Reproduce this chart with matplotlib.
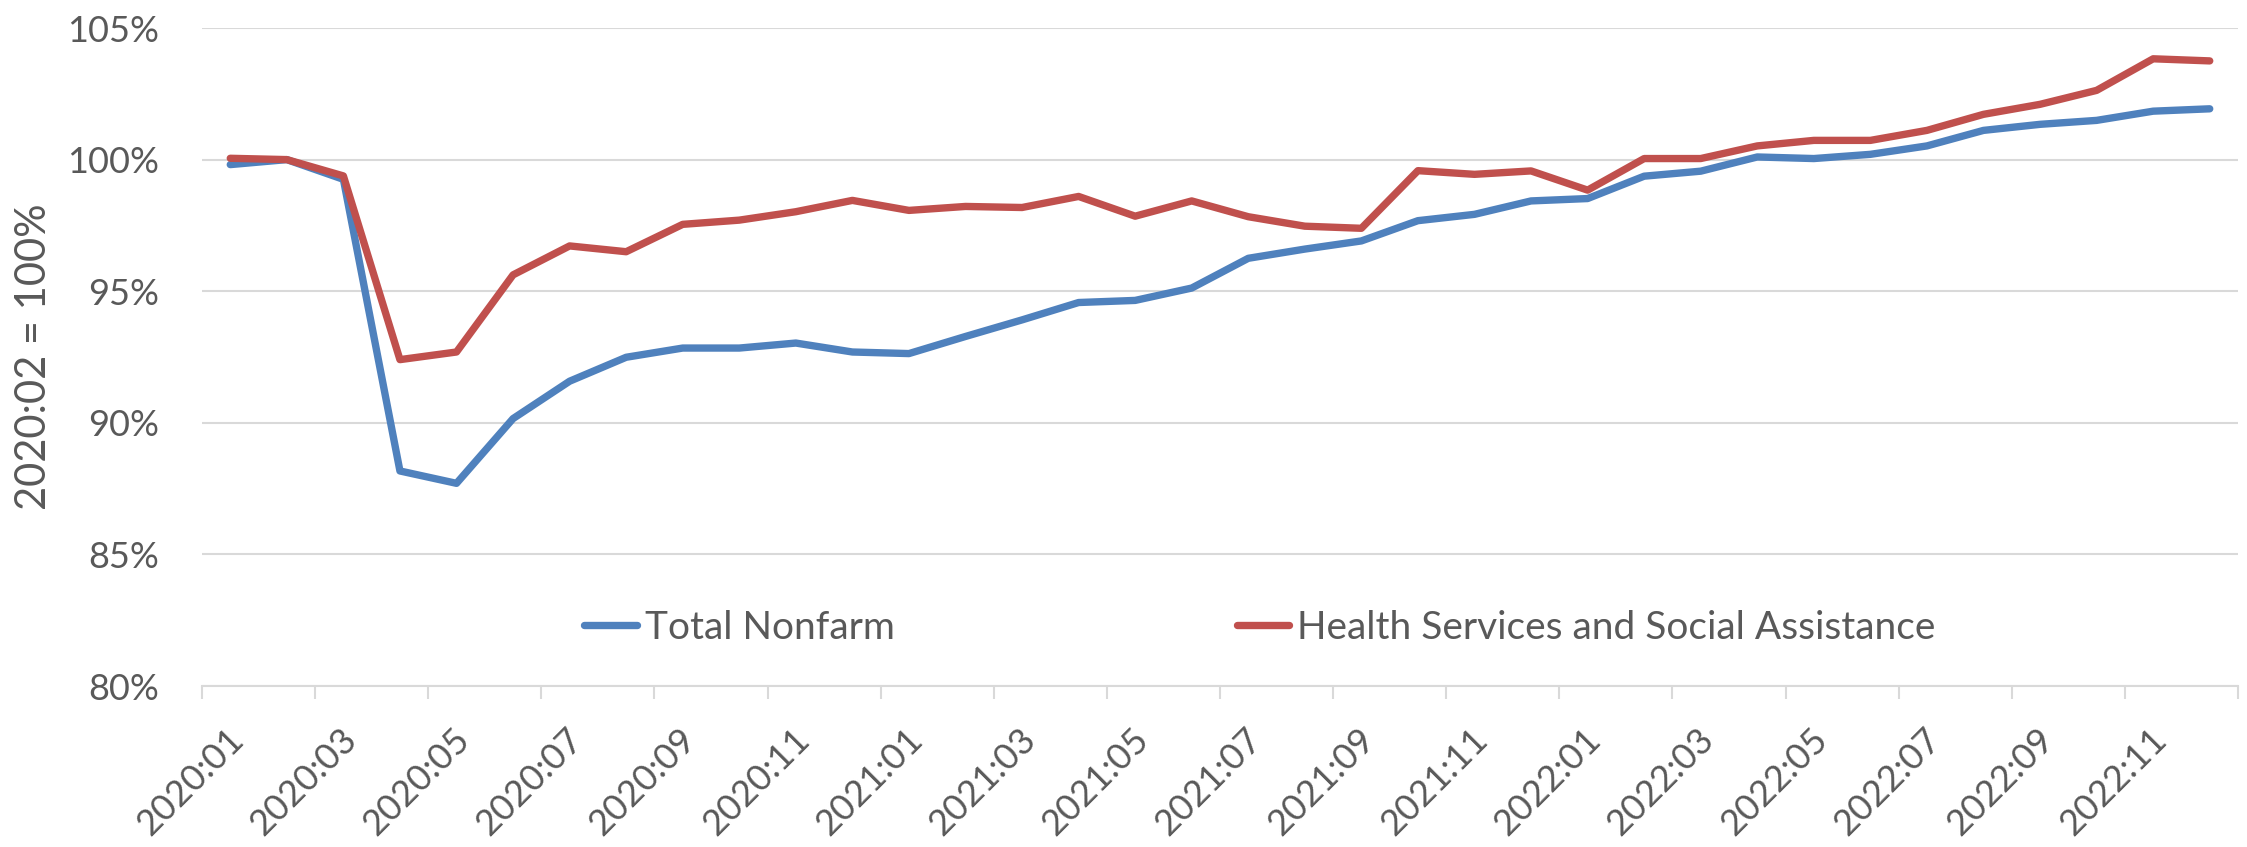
import numpy as np
import matplotlib.pyplot as plt
import matplotlib.transforms as mtransforms

months = [f"{y}:{m:02d}" for y in (2020, 2021, 2022) for m in range(1, 13)]

total_nonfarm = [99.81, 100.0, 99.25, 88.17, 87.70, 90.16, 91.58, 92.49, 92.84, 92.84,
                 93.03, 92.69, 92.63, 93.28, 93.91, 94.57, 94.65, 95.12, 96.25, 96.60,
                 96.91, 97.68, 97.92, 98.43, 98.52, 99.37, 99.56, 100.10, 100.04, 100.20,
                 100.52, 101.11, 101.34, 101.49, 101.84, 101.93]

health_social = [100.05, 100.0, 99.38, 92.40, 92.69, 95.62, 96.72, 96.50, 97.54, 97.70,
                 98.02, 98.45, 98.07, 98.22, 98.18, 98.60, 97.85, 98.43, 97.83, 97.47,
                 97.39, 99.58, 99.44, 99.57, 98.84, 100.04, 100.04, 100.52, 100.73, 100.73,
                 101.11, 101.72, 102.10, 102.63, 103.83, 103.75]

series_names = ["Total Nonfarm", "Health Services and Social Assistance"]
y_ticks = [80, 85, 90, 95, 100, 105]

txt = '#595959'
grid = '#D9D9D9'
font = ['Lato', 'DejaVu Sans']
plt.rcParams['font.family'] = font

fig = plt.figure(figsize=(22.47, 8.47), dpi=100)
ax = fig.add_axes([202 / 2247, 1 - 686 / 847, (2238 - 202) / 2247, (686 - 28) / 847])

x = np.arange(len(months))
ax.plot(x, total_nonfarm, color='#4F81BD', lw=5.3, solid_capstyle='round',
        solid_joinstyle='round', label=series_names[0], zorder=3)
ax.plot(x, health_social, color='#C0504D', lw=5.3, solid_capstyle='round',
        solid_joinstyle='round', label=series_names[1], zorder=3)

ax.set_xlim(-0.5, len(months) - 0.5)
ax.set_ylim(80, 105)
ax.set_yticks(y_ticks)
ax.set_yticklabels([f"{v}%" for v in y_ticks], fontsize=26, color=txt)
ax.yaxis.grid(True, color=grid, lw=1.5)
ax.set_axisbelow(True)
ax.tick_params(axis='y', length=0, pad=31)

ax.set_xticks(x[::2])
ax.set_xticklabels(months[::2], rotation=45, ha='right', va='center',
                   rotation_mode='anchor', fontsize=26, color=txt)
ax.set_xticks(np.arange(-0.5, len(months), 2), minor=True)
ax.tick_params(axis='x', which='major', length=0, pad=35)
ax.tick_params(axis='x', which='minor', length=9.5, width=1.5, color=grid)
off = mtransforms.ScaledTranslation(8 / 100, 0, fig.dpi_scale_trans)
for lab in ax.get_xticklabels():
    lab.set_transform(lab.get_transform() + off)

for s in ['top', 'right', 'left']:
    ax.spines[s].set_visible(False)
ax.spines['bottom'].set_color(grid)
ax.spines['bottom'].set_linewidth(1.5)

ax.set_ylabel("2020:02 = 100%", fontsize=30, color=txt, va='center')
ax.yaxis.set_label_coords((34 - 202) / 2036, 0.5)

leg = ax.legend(loc='center', bbox_to_anchor=(1260 / 2247, 1 - 628 / 847),
                bbox_transform=fig.transFigure, ncol=2, frameon=False,
                handlelength=1.35, handletextpad=0.2, columnspacing=8.8,
                prop={'size': 28})
for t in leg.get_texts():
    t.set_color(txt)

fig.savefig('out.png', dpi=100)
